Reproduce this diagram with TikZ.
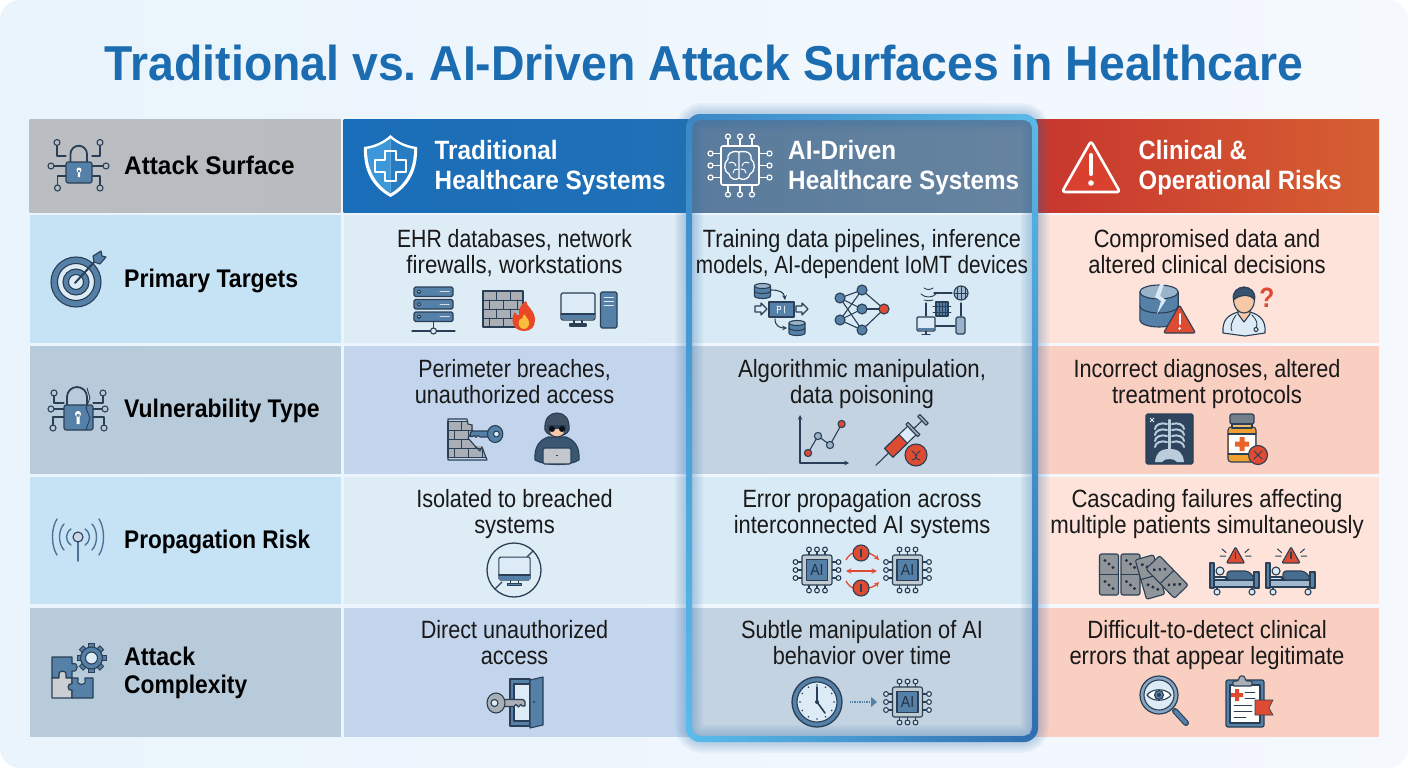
\documentclass[tikz,border=0pt]{standalone}
\usepackage{fontspec}
\usepackage{graphicx}
\setmainfont{Liberation Sans}
\newfontfamily\bodyfont[FakeStretch=0.88]{Liberation Sans}
\usetikzlibrary{calc}
\definecolor{ink}{HTML}{2A3F55}
\definecolor{icoblue}{HTML}{5580A8}
\definecolor{icolight}{HTML}{DCEBF5}
\definecolor{icogray}{HTML}{A9AFB5}
\definecolor{icored}{HTML}{DE4B33}
\definecolor{icoorange}{HTML}{F0A030}
\definecolor{skin}{HTML}{F5C8A8}
\definecolor{titleblue}{HTML}{1B6CB0}
\definecolor{cfa}{HTML}{3B87C7}
\definecolor{cfb}{HTML}{5ABAE8}
\definecolor{cfc}{HTML}{2F6DB0}
\definecolor{cfd}{HTML}{5ABDEB}
\definecolor{glowc}{HTML}{2F6FB0}
\definecolor{shieldl}{RGB}{60,152,216}
\definecolor{shieldr}{RGB}{40,124,194}
\definecolor{flamer}{RGB}{232,72,38}
\definecolor{flamey}{RGB}{250,190,60}
\definecolor{crackc}{RGB}{216,234,245}
\definecolor{pillc}{RGB}{232,100,40}
\definecolor{warnh}{RGB}{218,64,46}
\colorlet{keyfillc}{icoblue}
\newcommand{\fitln}[2]{\rule[-6pt]{0pt}{26pt}\resizebox{#1pt}{\height}{#2}}
\newcommand{\fitw}[2]{\resizebox{#1pt}{\height}{#2}}
\tikzset{
 ic/.style={draw=ink,line width=1.1pt,line join=round,line cap=round},
 wl/.style={draw=white,line width=1.6pt,line join=round,line cap=round},
 cellbox/.style={inner sep=0pt,outer sep=0pt,rectangle},
 bodytext/.style={align=center,inner sep=0pt,text=black!90,font=\bodyfont\fontsize{25}{26}\selectfont},
 rowlabel/.style={anchor=base west,inner sep=0pt,text=black,font=\bodyfont\bfseries\fontsize{25.5}{29}\selectfont},
 headtext/.style={anchor=base west,inner sep=0pt,text=white,font=\bodyfont\bfseries\fontsize{26.5}{30}\selectfont},
 aichip/.pic={
  \foreach \t in {-8,0,8}{
   \draw[ic] (\t,-14)--(\t,-18) (\t,14)--(\t,18) (-15,\t)--(-19,\t) (15,\t)--(19,\t);
   \draw[ic,fill=icolight] (\t,-20.5) circle (2.4) (\t,20.5) circle (2.4) (-21.5,\t) circle (2.4) (21.5,\t) circle (2.4);
  }
  \draw[ic,fill=icolight!70!gray,rounded corners=2pt] (-15,-15) rectangle (15,15);
  \draw[ic,fill=icoblue] (-10.5,-10.5) rectangle (10.5,10.5);
  \node[text=ink!80!black,inner sep=0pt,font=\bodyfont\fontsize{16}{16}\selectfont] (-t) at (0,0) {AI};
 },
 warnsign/.pic={
  \draw[ic,fill=icored,rounded corners=2pt] (0,-14) -- (16,14) -- (-16,14) -- cycle;
  \draw[draw=white,line width=2pt,line cap=round] (0,-5) -- (0,5);
  \fill[white] (0,9.5) circle (1.5);
 },
 warnsmall/.pic={
  \draw[ic,fill=icored,rounded corners=1pt] (0,-8) -- (9,8) -- (-9,8) -- cycle;
  \draw[draw=ink,line width=1.1pt,line cap=round] (0,-3) -- (0,3.5);
 },
 dbstack/.pic={
  \draw[ic,fill=icoblue] (-8,-5) -- (-8,5) arc (180:0:8 and 2.5) -- (8,-5) -- cycle;
  \draw[ic] (-8,0) arc (180:0:8 and 2.5);
  \draw[ic,fill=icoblue!60!white] (0,-5) ellipse (8 and 2.5);
 },
 monitor/.pic={
  \draw[ic] (-4,13) -- (-4,17) (4,13) -- (4,17);
  \draw[ic,fill=icoblue] (-8,17) rectangle (8,19);
  \draw[ic,fill=icolight,rounded corners=1.5pt] (-17,-14) rectangle (17,13);
  \fill[icoblue] (-16.4,7) rectangle (16.4,12.4);
  \draw[ic] (-17,7) -- (17,7);
 },
 wallbrick/.pic={
  \fill[icogray] (-20,-18) rectangle (20,18);
  \foreach \r in {-9,0,9} \draw[ic,line width=.9pt] (-20,\r) -- (20,\r);
  \foreach \r in {-18,0} {
   \foreach \c in {-7,7} \draw[ic,line width=.9pt] (\c,\r) -- (\c,\r+9);
   \foreach \c in {-14,0,14} \draw[ic,line width=.9pt] (\c,\r+9) -- (\c,\r+18);
  }
  \draw[ic] (-20,-18) rectangle (20,18);
 },
 keyshape/.pic={
  \draw[ic,fill=keyfillc] (-8,-3.5) -- (18,-3.5) -- (20,-1.5) -- (20,3) -- (17,3) -- (15.5,1.5) -- (13.5,4) -- (11,1.5) -- (9,3.5) -- (-8,3.5) -- cycle;
  \draw[ic,fill=keyfillc] (-9,0) ellipse (9 and 10);
  \draw[ic,fill=icolight] (-10.5,0) circle (3.5);
 },
 domino/.pic={
  \draw[ic,fill=icogray!85!black,rounded corners=2pt] (-9.5,-20.5) rectangle (9.5,20.5);
  \draw[ic] (-9.5,0) -- (9.5,0);
  \fill[ink!80!black] (-4,-14) circle (1.7) (4,-7) circle (1.7) (0,-10.5) circle (1.7) (-4,7) circle (1.7) (4,14) circle (1.7) (0,10.5) circle (1.7);
 },
 bedicon/.pic={
  \draw[ic,fill=icoblue] (-24,-17) rectangle (-20,8);
  \draw[ic,fill=icoblue] (20,-8) rectangle (25,8);
  \draw[ic,fill=icoblue!55!white] (-20,0) rectangle (20,7);
  \draw[ic,fill=icolight] (-14,-9) circle (4);
  \draw[ic,fill=icolight] (-20,-3) rectangle (-8,0);
  \draw[ic,fill=icoblue!85!black,rounded corners=3pt] (-7,0) -- (-7,-9) -- (14,-9) -- (20,-3) -- (20,0) -- cycle;
  \draw[ic,fill=icolight] (-17,12) circle (3) (18,12) circle (3);
  \draw[ic] (-17,8) -- (-17,9) (18,8) -- (18,9);
 },
 alarmticks/.pic={
  \draw[ic,line width=1pt] (-13.5,-6) -- (-9.5,-2.5) (-15.5,1) -- (-10,1) (13.5,-6) -- (9.5,-2.5) (15.5,1) -- (10,1);
 }
}
\newcommand{\gridcell}[6]{\node[cellbox,#6,minimum width={#4-#2},minimum height={#5-#3}] (#1) at ({(#2+#4)/2},{(#3+#5)/2}) {};}
\begin{document}
\begin{tikzpicture}[x=1pt,y=-1pt]
\useasboundingbox (0,0) rectangle (1408,768);
\fill[white] (0,0) rectangle (1408,768);
\shade[left color={rgb,255:red,233;green,244;blue,252},right color={rgb,255:red,245;green,249;blue,254},rounded corners=20pt] (0,0) rectangle (1408,768);
\node[anchor=base,text=titleblue,inner sep=0pt,font=\bodyfont\bfseries\fontsize{49}{52}\selectfont] (title) at (704,80) {\fitw{1198}{Traditional vs.\ AI-Driven Attack Surfaces in Healthcare}};

% ---------- grid
\gridcell{h1}{29.5}{119.5}{340.5}{212}{left color={rgb,255:red,186;green,190;blue,194},right color={rgb,255:red,184;green,188;blue,192}}
\gridcell{h2}{343.5}{119.5}{688}{212}{left color={rgb,255:red,26;green,109;blue,184},right color={rgb,255:red,32;green,112;blue,182}}
\gridcell{h3}{688}{119.5}{1037}{212}{left color={rgb,255:red,90;green,123;blue,156},right color={rgb,255:red,102;green,132;blue,160}}
\gridcell{h4}{1037}{119.5}{1379}{212}{left color={rgb,255:red,200;green,54;blue,46},right color={rgb,255:red,214;green,96;blue,50}}
\foreach \n/\ya/\yb in {a/215/343,c/477/604}{
 \gridcell{\n1}{29.5}{\ya}{340.5}{\yb}{fill={rgb,255:red,197;green,227;blue,245}}
 \gridcell{\n2}{343.5}{\ya}{688}{\yb}{fill={rgb,255:red,222;green,236;blue,246}}
 \gridcell{\n3}{688}{\ya}{1037}{\yb}{fill={rgb,255:red,216;green,234;blue,245}}
 \gridcell{\n4}{1037}{\ya}{1379}{\yb}{fill={rgb,255:red,253;green,227;blue,218}}
}
\foreach \n/\ya/\yb in {b/346/473.5,d/607.5/736.5}{
 \gridcell{\n1}{29.5}{\ya}{340.5}{\yb}{fill={rgb,255:red,184;green,203;blue,218}}
 \gridcell{\n2}{343.5}{\ya}{688}{\yb}{fill={rgb,255:red,195;green,213;blue,236}}
 \gridcell{\n3}{688}{\ya}{1037}{\yb}{fill={rgb,255:red,195;green,211;blue,225}}
 \gridcell{\n4}{1037}{\ya}{1379}{\yb}{fill={rgb,255:red,249;green,207;blue,194}}
}

% ---------- highlight glow and ring
\foreach \w in {4,8,12,16,20,24,28}{
 \draw[glowc,line width=\w pt,opacity=.055,rounded corners=13pt] (689,117) rectangle (1035,739);
}
\newcommand{\ringband}[2]{\begin{scope}\clip #1;\shade[#2,even odd rule] [rounded corners=14pt] (686,114) rectangle (1038,742) [rounded corners=9pt] (692,120) rectangle (1032,736);\end{scope}}
\ringband{(680,108)--(1044,108)--(1030,122)--(694,122)--cycle}{left color=cfa,right color=cfb}
\ringband{(1044,108)--(1044,748)--(1030,734)--(1030,122)--cycle}{top color=cfb,bottom color=cfc}
\ringband{(1044,748)--(680,748)--(694,734)--(1030,734)--cycle}{left color=cfd,right color=cfc}
\ringband{(680,748)--(680,108)--(694,122)--(694,734)--cycle}{top color=cfa,bottom color=cfd}

% ---------- texts
\node[rowlabel] (l0) at (124,174.5) {\fitw{170.5}{Attack Surface}};
\node[rowlabel] (l1) at (124,287) {\fitw{174}{Primary Targets}};
\node[rowlabel] (l2) at (124,417) {\fitw{195.5}{Vulnerability Type}};
\node[rowlabel] (l3) at (124,548) {\fitw{186}{Propagation Risk}};
\node[rowlabel] (l4a) at (124,665) {\fitw{71}{Attack}};
\node[rowlabel] (l4b) at (124,693.5) {\fitw{123}{Complexity}};
\node[headtext] (t2a) at (434.5,159.5) {\fitw{123}{Traditional}};
\node[headtext] (t2b) at (434.5,189.5) {\fitw{231}{Healthcare Systems}};
\node[headtext] (t3a) at (788,159.5) {\fitw{108}{AI-Driven}};
\node[headtext] (t3b) at (788,189.5) {\fitw{231}{Healthcare Systems}};
\node[headtext] (t4a) at (1138.5,159.5) {\fitw{108}{Clinical \&}};
\node[headtext] (t4b) at (1138.5,189.5) {\fitw{203}{Operational Risks}};
\node[bodytext] (a2t) at (514.5,253) {\fitln{235}{EHR databases, network}\\\fitln{216}{firewalls, workstations}};
\node[bodytext] (a3t) at (862,253) {\fitln{318}{Training data pipelines, inference}\\\fitln{332}{models, AI-dependent IoMT devices}};
\node[bodytext] (a4t) at (1207,253) {\fitln{226.5}{Compromised data and}\\\fitln{237.5}{altered clinical decisions}};
\node[bodytext] (b2t) at (514.5,383) {\fitln{192.5}{Perimeter breaches,}\\\fitln{199.5}{unauthorized access}};
\node[bodytext] (b3t) at (862,383) {\fitln{248}{Algorithmic manipulation,}\\\fitln{144}{data poisoning}};
\node[bodytext] (b4t) at (1207,383) {\fitln{267}{Incorrect diagnoses, altered}\\\fitln{190}{treatment protocols}};
\node[bodytext] (c2t) at (514.5,513) {\fitln{196.5}{Isolated to breached}\\\fitln{80.5}{systems}};
\node[bodytext] (c3t) at (862,513) {\fitln{239}{Error propagation across}\\\fitln{256.5}{interconnected AI systems}};
\node[bodytext] (c4t) at (1207,513) {\fitln{271}{Cascading failures affecting}\\\fitln{313.5}{multiple patients simultaneously}};
\node[bodytext] (d2t) at (514.5,644.5) {\fitln{187.5}{Direct unauthorized}\\\fitln{67.5}{access}};
\node[bodytext] (d3t) at (862,644.5) {\fitln{242}{Subtle manipulation of AI}\\\fitln{178.5}{behavior over time}};
\node[bodytext] (d4t) at (1207,644.5) {\fitln{239.5}{Difficult-to-detect clinical}\\\fitln{275}{errors that appear legitimate}};

% ---------- header icons
% network padlock
\draw[ic] (57,146)|-(66,156) (100,146)|-(92,156) (54,166)--(66,166) (103,166)--(92,166) (57.5,185)|-(66,176) (100,185)|-(92,176);
\draw[ic] (57,142.5) circle (3) (100,142.5) circle (3) (51,166) circle (3) (106,166) circle (3) (57.5,188) circle (3) (100,188) circle (3);
\draw[ic,line width=1.8pt] (70.5,163) -- (70.5,154) arc (180:360:8.25) -- (87,163);
\draw[ic,fill=icoblue,rounded corners=2pt] (66,162) rectangle (92,183);
\fill[white] (79,170) circle (2.5) (77.8,170) rectangle (80.2,177);
% shield
\fill[white] (390.5,135) .. controls (382,143) and (372,146) .. (364,147) .. controls (363,170) and (372,187) .. (390.5,197) .. controls (409,187) and (418,170) .. (417,147) .. controls (409,146) and (399,143) .. (390.5,135) -- cycle;
\fill[shieldl] (390.5,138.5) .. controls (382,145) and (374,148) .. (367,149) .. controls (367,169) and (375,184) .. (390.5,193.5) -- cycle;
\fill[shieldr] (390.5,138.5) .. controls (399,145) and (407,148) .. (414,149) .. controls (414,169) and (406,184) .. (390.5,193.5) -- cycle;
\draw[wl,line width=1.8pt] (385,151) -- (396,151) -- (396,160) -- (406,160) -- (406,172) -- (396,172) -- (396,181) -- (385,181) -- (385,172) -- (375,172) -- (375,160) -- (385,160) -- cycle;
% brain chip
\draw[wl,rounded corners=2pt] (721,146) rectangle (759,185);
\foreach \t in {-12,0,12}{
 \draw[wl,line width=1.2pt] (740+\t,146) -- (740+\t,139) (740+\t,185) -- (740+\t,192) (721,165.5+\t) -- (713,165.5+\t) (759,165.5+\t) -- (767,165.5+\t);
 \draw[wl,line width=1.2pt] (740+\t,136.5) circle (2.5) (740+\t,194.5) circle (2.5) (710.5,165.5+\t) circle (2.5) (769.5,165.5+\t) circle (2.5);
}
\draw[wl,line width=1.3pt] (739,152) .. controls (730,150) and (727,155) .. (728,159) .. controls (723,163) and (724,172) .. (729,174) .. controls (730,179) and (736,181) .. (739,178) -- (739,152) .. controls (749,150) and (752,155) .. (751,159) .. controls (756,163) and (755,172) .. (750,174) .. controls (749,179) and (743,181) .. (739,178);
\draw[wl,line width=1pt] (729,163) .. controls (733,161) and (735,163) .. (736,166) (733,173) .. controls (733,170) and (735,169) .. (738,169) (749,163) .. controls (745,161) and (743,163) .. (742,166) (746,173) .. controls (746,170) and (744,169) .. (741,169);
% warning triangle header
\draw[draw=white,line width=2.6pt,line join=round,fill=warnh,rounded corners=3pt] (1091,141) -- (1120,192) -- (1062,192) -- cycle;
\draw[draw=white,line width=4pt,line cap=round] (1091,155) -- (1091,174);
\fill[white] (1091,183) circle (2.8);

% ---------- row 1 icons
% bullseye
\draw[ic,fill=icoblue] (76,282) circle (25);
\draw[ic,fill=icolight] (76,282) circle (18.5);
\draw[ic,fill=icoblue] (76,282) circle (13);
\draw[ic,fill=icolight] (76,282) circle (7.5);
\draw[ic,line width=2pt] (75,283) -- (96,260);
\draw[ic,fill=icoblue] (94,262) -- (93,256) -- (101,251) -- (102,256) -- (106,257) -- (100,264) -- cycle;
% server rack
\foreach \yy in {287,299.5,312}{
 \draw[ic,fill=icoblue,rounded corners=1.5pt] (414,\yy) rectangle (453,\yy+9.5);
 \draw[ic,fill=icolight] (419,\yy+4.7) circle (1.8);
 \draw[ic,line width=1pt,densely dotted,draw=icolight] (440,\yy+4.7) -- (449,\yy+4.7);
}
\draw[ic] (433.5,321.5) -- (433.5,328) (412,331) -- (455,331);
\draw[ic,fill=icolight] (433.5,331) circle (3);
% firewall
\pic (fw) at (503,309) {wallbrick};
\fill[flamer] (524,331) .. controls (512,331) and (510,318) .. (515,312) .. controls (516,315) and (518,316) .. (519,315) .. controls (518,308) and (522,304) .. (526,301) .. controls (526,306) and (535,310) .. (535,320) .. controls (535,327) and (531,331) .. (524,331) -- cycle;
\fill[flamey] (524,329) .. controls (519,329) and (517,323) .. (520,319) .. controls (522,320) and (523,317) .. (524,314) .. controls (527,318) and (530,321) .. (529,325) .. controls (528,328) and (526,329) .. (524,329) -- cycle;
% workstation
\pic (ws) at (578,307) {monitor};
\draw[ic,fill=icoblue,rounded corners=1.5pt] (600.5,292) rectangle (617,328);
\draw[ic,line width=.8pt,draw=icolight] (604,297) -- (613.5,297) (604,301) -- (613.5,301) (604,305) -- (613.5,305);
% pipeline
\pic (pa) at (762.5,291) {dbstack};
\pic (pb) at (797,328) {dbstack};
\draw[ic,fill=icoblue] (769,302) rectangle (794,317);
\draw[ic,line width=.9pt,draw=icolight] (777,306) -- (777,313) (777,306) -- (780,306) -- (780,309) -- (777,309) (784,306) -- (784,313);
\draw[ic,fill=icolight] (755,306) -- (761,306) -- (761,303) -- (767,309) -- (761,315) -- (761,312) -- (755,312) -- cycle;
\draw[ic,fill=icolight] (796,306) -- (802,306) -- (802,303) -- (808,309) -- (802,315) -- (802,312) -- (796,312) -- cycle;
\draw[ic,->,>=stealth] (771,290) .. controls (779,290) and (784,292) .. (785,300);
\draw[ic,->,>=stealth] (775,319) .. controls (775,326) and (780,328) .. (787,328);
% neural net
\foreach \a/\b in {840/298,840/320}{
 \foreach \c/\d in {862/290,862/309,862/330}{\draw[ic] (\a,\b) -- (\c,\d);}
}
\foreach \c/\d in {862/290,862/309,862/330}{\draw[ic] (\c,\d) -- (884,309);}
\foreach \a/\b in {862/290,840/298,840/320,862/309,862/330}{\draw[ic,fill=icoblue] (\a,\b) circle (5);}
\draw[ic,fill=icored] (884,309) circle (5);
% IoMT
\draw[ic] (934,293) -- (952,293) (926,303) -- (926,316) (961,303) -- (961,316) (935,326) -- (955,326);
\draw[ic,line width=.9pt] (924,288) .. controls (927,290) and (930,290) .. (933,288) (921,294) .. controls (925,298) and (932,298) .. (936,294) (924,300) .. controls (927,301) and (930,301) .. (933,300);
\draw[ic,fill=icoblue!55!white] (961,293) circle (7);
\draw[ic,line width=.7pt] (954,293) -- (968,293) (961,286) -- (961,300) (957,287) -- (957,299) (965,287) -- (965,299);
\draw[ic,fill=icoblue] (936,302) rectangle (948,316);
\draw[ic,line width=.7pt] (939,302) -- (939,316) (942,302) -- (942,316) (945,302) -- (945,316) (933,306) -- (951,306) (933,312) -- (951,312);
\draw[ic,fill=icolight,rounded corners=1pt] (917,317) rectangle (935,331);
\fill[icoblue] (917.6,328) rectangle (934.4,330.4);
\draw[ic] (926,331) -- (926,334) (922,334.5) -- (930,334.5);
\draw[ic,fill=icoblue!60!white,rounded corners=1.5pt] (956,317) rectangle (965,334);
% broken db + warning
\pic[xscale=2.4,yscale=2.8] (bd) at (1159,306) {dbstack};
\fill[crackc] (1164,284) -- (1160,296) -- (1166,300) -- (1157,314) -- (1161,301) -- (1155,297) -- (1160,284) -- cycle;
\pic (wa) at (1179.5,319) {warnsign};
% doctor
\draw[ic,fill=icolight] (1223,333) .. controls (1222,320) and (1228,315) .. (1238,312) -- (1250,312) .. controls (1260,315) and (1266,320) .. (1265,333) -- (1245,336) -- cycle;
\draw[ic,fill=skin] (1238,304) -- (1238,314) -- (1244,322) -- (1250,314) -- (1250,304) -- cycle;
\draw[ic,fill=skin] (1244,300) ellipse (10.5 and 13);
\draw[ic,fill=icoblue!30!ink] (1233.5,300) .. controls (1230,283) and (1258,283) .. (1254.5,300) .. controls (1251,294) and (1240,294) .. (1233.5,300) -- cycle;
\draw[ic,line width=.9pt] (1236,315) .. controls (1231,322) and (1230,328) .. (1232,331) (1252,315) .. controls (1257,320) and (1258,324) .. (1256,328);
\draw[ic,fill=icolight] (1256,329.5) circle (2);
\node[text=icored,inner sep=0pt,font=\bodyfont\bfseries\fontsize{28}{28}\selectfont] (qm) at (1267,297.5) {?};

% ---------- row 2 icons
% broken padlock
\draw[ic] (54,396)|-(64,403) (103,396)|-(93,403) (54,409)--(64,409) (102,409)--(93,409) (53,425)|-(64,417) (104,425)|-(93,417);
\draw[ic] (54,393) circle (3) (103,393) circle (3) (51,409) circle (3) (105,409) circle (3) (53,428) circle (3) (104,428) circle (3);
\draw[ic,line width=1.8pt] (67,405) -- (67,397) arc (180:360:10) -- (87,405);
\draw[ic,fill=icoblue,rounded corners=2pt] (64,405) rectangle (93,430);
\fill[white] (78,414) circle (3) (76.5,414) rectangle (79.5,424);
\draw[ic,line width=.9pt] (87,388) -- (90,398) -- (86,408) -- (90,418) -- (86,430);
% broken wall + key
\begin{scope}
\clip (447,418) -- (468,418) -- (468,424) -- (473,424) -- (473,432) -- (468,438) -- (475,446) -- (482,446) -- (488,461) -- (447,461) -- cycle;
\pic (bw) at (468,439.5) {wallbrick};
\end{scope}
\draw[ic] (448,419) -- (467,419) -- (468,424) -- (472,425) -- (472,432) -- (468,438) -- (475,446) -- (480,451) -- (482,447) -- (487,460) -- (448,460) -- cycle;
\pic[xscale=-.85,yscale=.85] (kb) at (487.5,434) {keyshape};
% hacker
\draw[ic,fill=icoblue!35!ink] (535,460) .. controls (534,446) and (540,440) .. (548,437) -- (566,437) .. controls (574,440) and (580,446) .. (579,460) .. controls (570,466) and (545,466) .. (535,460) -- cycle;
\draw[ic,fill=ink!90!white] (545,430) .. controls (544,418) and (550,413) .. (557,413) .. controls (564,413) and (570,418) .. (569,430) .. controls (566,438) and (548,438) .. (545,430) -- cycle;
\draw[ic,fill=skin] (549,427) -- (565,427) -- (564,434) .. controls (560,438) and (554,438) .. (550,434) -- cycle;
\fill[ink] (548,425) -- (566,425) -- (566,429) -- (548,429) -- cycle;
\fill[black!75!ink] (552,429) circle (3) (562,429) circle (3);
\draw[ic,fill=icogray!70!white,rounded corners=1.5pt] (543,448) rectangle (571,464);
\fill[ink] (556,455) rectangle (558,456);
% chart
\draw[ic,->,>=stealth] (800,463) -- (800,415);
\draw[ic,->,>=stealth] (800,463) -- (849,463);
\draw[ic] (808,453) -- (818,436) -- (830,445) -- (841.6,424);
\draw[ic,fill=icored] (808,453) circle (3.6) (841.6,424) circle (3.6);
\draw[ic,fill=icoblue!60!white] (818,436) circle (3.6) (830,445) circle (3.6);
% syringe
\begin{scope}[shift={(901,441)},rotate=44]
\draw[ic] (-35,0) -- (-17,0);
\draw[ic,fill=icolight] (-17,-6) rectangle (15,6);
\draw[ic,fill=icored] (-17,-6) rectangle (3,6);
\draw[ic,fill=icogray] (15,-8.5) rectangle (18,8.5);
\draw[ic] (18,0) -- (29,0);
\draw[ic,fill=icogray] (29,-6) rectangle (32,6);
\end{scope}
\draw[ic,fill=icored] (916,455) circle (11);
\draw[ic,line width=.9pt,draw=ink] (912,451) .. controls (918,454) and (914,460) .. (920,460) (920,451) .. controls (914,454) and (918,460) .. (912,460);
% xray
\draw[ic,fill=ink!90!icoblue,rounded corners=1.5pt] (1146,414) rectangle (1193,464);
\draw[draw=icoblue!40!white,line width=2.4pt,line cap=round] (1169.5,420) -- (1169.5,452);
\foreach \yy in {424,430,436,442}{
 \draw[draw=icoblue!40!white,line width=2pt,line cap=round] (1167,\yy) .. controls (1161,\yy-2) and (1155,\yy+1) .. (1155,\yy+5) (1172,\yy) .. controls (1178,\yy-2) and (1184,\yy+1) .. (1184,\yy+5);
}
\fill[icoblue!40!white] (1169.5,449) .. controls (1160,449) and (1156,453) .. (1155,462) -- (1162,462) .. controls (1164,458) and (1175,458) .. (1177,462) -- (1184,462) .. controls (1183,453) and (1179,449) .. (1169.5,449) -- cycle;
\draw[draw=icolight,line width=.8pt] (1150,418) -- (1154,422) (1154,418) -- (1150,422);
% bottle
\draw[ic,fill=icoorange,rounded corners=3pt] (1228,427) rectangle (1256,462);
\draw[ic,fill=gray!70!icoblue,rounded corners=1.5pt] (1230,414) rectangle (1254,424);
\draw[ic,fill=icoorange!70!white] (1232,424) rectangle (1252,428);
\fill[white] (1228.6,434) rectangle (1255.4,454);
\draw[ic] (1228,434) -- (1256,434) (1228,454) -- (1256,454);
\fill[pillc] (1239.5,437) rectangle (1244.5,451) (1235,441.5) rectangle (1249,446.5);
\draw[ic,fill=icored] (1258,455) circle (9.5);
\draw[ic,line width=1pt] (1254,451) -- (1262,459) (1262,451) -- (1254,459);

% ---------- row 3 icons
% antenna
\draw[draw=icoblue!80!ink,line width=1.6pt,line cap=round] (78,541) -- (78,561);
\draw[ic,fill=icoblue!30!white] (78,537) circle (5);
\foreach \r/\h in {11/8,18/13,25/18}{
 \draw[draw=icoblue!80!ink,line width=1.4pt,line cap=round] (78-\r+4,537-\h) .. controls (78-\r-2,537-\h/2) and (78-\r-2,537+\h/2) .. (78-\r+4,537+\h);
 \draw[draw=icoblue!80!ink,line width=1.4pt,line cap=round] (78+\r-4,537-\h) .. controls (78+\r+2,537-\h/2) and (78+\r+2,537+\h/2) .. (78+\r-4,537+\h);
}
% crossed monitor
\draw[ic,line width=1.3pt] (514,570) circle (27);
\draw[ic,line width=1.3pt] (533,551) -- (527,557) (502,582) -- (495,589);
\pic[xscale=.92,yscale=.85] (cm) at (514.5,569) {monitor};
% chips and errors
\pic (ca) at (817,570) {aichip};
\pic (cb) at (907.5,570) {aichip};
\draw[draw=icored,line width=1.4pt,<->,>=stealth] (846,571) -- (877,571);
\draw[draw=icored,line width=1.3pt] (846,560) .. controls (848,556) and (851,554) .. (853,553);
\draw[draw=icored,line width=1.3pt,->,>=stealth] (869,553) .. controls (873,555) and (876,557) .. (879,560);
\draw[draw=icored,line width=1.3pt] (846,581) .. controls (848,585) and (851,587) .. (853,588);
\draw[draw=icored,line width=1.3pt,->,>=stealth] (869,588) .. controls (873,587) and (876,585) .. (879,582);
\foreach \yy in {553,588}{
 \draw[ic,fill=icored] (861,\yy) circle (8);
 \draw[draw=ink,line width=1.1pt] (861,\yy-4) -- (861,\yy+4);
}
% dominoes
\pic (d1) at (1109,574.5) {domino};
\pic (d2) at (1130.5,574.5) {domino};
\pic (d3) [rotate=16] at (1150,577) {domino};
\pic (d4) [rotate=44] at (1167,577) {domino};
% beds
\pic (ba) at (1234,580) {bedicon};
\pic (bb) at (1290,580) {bedicon};
\pic (wb) at (1235.5,555) {warnsmall};
\pic (wc) at (1291,555) {warnsmall};
\pic (ta) at (1235.5,555) {alarmticks};
\pic (tb) at (1291,555) {alarmticks};

% ---------- row 4 icons
% puzzle and gear
\draw[ic,fill=icoblue] (52,657) -- (72,657) -- (72,664) .. controls (79,661) and (79,673) .. (72,671) -- (72,678) -- (66,678) -- (66,675) .. controls (68,670) and (57,670) .. (59,675) -- (59,678) -- (52,678) -- cycle;
\draw[ic,fill=icogray!60!white] (52,678) -- (59,678) -- (59,675) .. controls (57,670) and (68,670) .. (66,675) -- (66,678) -- (72,678) -- (72,684) .. controls (67,682) and (67,692) .. (72,690) -- (72,698) -- (52,698) -- cycle;
\draw[ic,fill=icoblue] (72,678) -- (78,678) -- (78,680) .. controls (76,686) and (87,686) .. (85,680) -- (85,678) -- (93,678) -- (93,698) -- (72,698) -- (72,690) .. controls (67,692) and (67,682) .. (72,684) -- cycle;
\foreach \a in {0,45,...,315}{
 \fill[draw=ink,line width=.9pt,fill=icoblue,rotate around={\a:(91.5,658)}] (88.8,643.5) rectangle (94.2,648);
}
\draw[ic,fill=icoblue] (91.5,658) circle (11);
\draw[ic,fill=icolight] (91.5,658) circle (6);
% door and key
\draw[ic,fill=icoblue,line width=1.2pt] (510,679) rectangle (530,726);
\draw[ic,fill=icolight] (514,684) rectangle (530,721);
\draw[ic,fill=icoblue] (530,680) -- (543,677) -- (543,725) -- (530,728) -- cycle;
\fill[ink] (534,702) circle (1.2);
\colorlet{keyfillc}{icogray}
\pic (kd) at (505,703) {keyshape};
% clock and arrow
\draw[ic,line width=1.3pt,fill=icoblue] (817,702) circle (25);
\draw[ic,fill=icolight] (817,702) circle (20);
\foreach \a in {0,30,...,330}{\fill[ink] ($(817,702)+(\a:17)$) circle (.8);}
\draw[ic,line width=1.6pt] (817,687) -- (817,702) -- (825,713);
\fill[ink] (817,702) circle (2);
\draw[draw=icoblue,line width=1.4pt,densely dotted] (849.5,702) -- (871,702);
\fill[icoblue] (871,697) -- (877,702) -- (871,707) -- cycle;
\pic (cc) at (907.5,702) {aichip};
% magnifier
\draw[ink,line width=6pt,line cap=round] (1175,711) -- (1186,723);
\draw[icoblue,line width=3.8pt,line cap=round] (1175,711) -- (1186,723);
\draw[ic,fill=icoblue!70!white,line width=1.2pt] (1159,695) circle (19);
\draw[ic,fill=icolight] (1159,695) circle (15);
\draw[ic,fill=white] (1147,695) .. controls (1152,688) and (1166,688) .. (1171,695) .. controls (1166,702) and (1152,702) .. (1147,695) -- cycle;
\draw[ic,fill=icoblue] (1159,695) circle (4.5);
\fill[ink] (1159,695) circle (2);
% clipboard
\draw[ic,fill=icoblue,line width=1.2pt,rounded corners=2pt] (1226,680) rectangle (1264,727);
\draw[ic,fill=white] (1230,685) rectangle (1260,723);
\draw[ic,fill=icogray,rounded corners=1pt] (1233,681) -- (1238,681) -- (1240,676) -- (1244,676) -- (1246,681) -- (1252,681) -- (1252,686) -- (1233,686) -- cycle;
\fill[icored] (1235,689) rectangle (1239,701) (1231,693) rectangle (1243,697);
\draw[ic,line width=.9pt] (1245,692) -- (1255,692) (1245,698) -- (1255,698) (1234,705) -- (1252,705) (1234,711) -- (1252,711) (1234,717) -- (1246,717);
\draw[draw=ink,line width=.6pt,fill=icored] (1255,700) -- (1273,700) -- (1269,708) -- (1273,715) -- (1255,715) -- cycle;
\end{tikzpicture}
\end{document}
